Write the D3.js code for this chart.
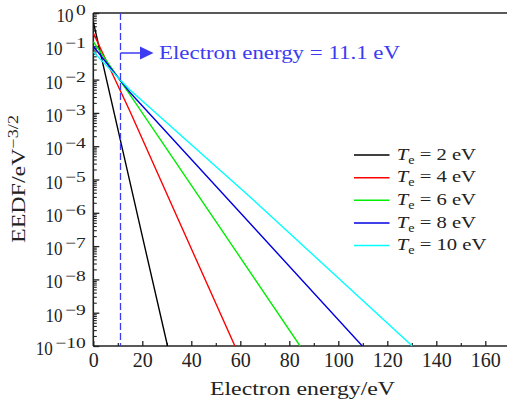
<!DOCTYPE html>
<html>
<head>
<meta charset="utf-8">
<script src="https://cdn.jsdelivr.net/npm/d3@7"></script>
<style>
  html, body { margin: 0; padding: 0; background: #fff; }
  svg { display: block; }
</style>
</head>
<body>
<svg id="chart" width="507" height="401"></svg>
<script>
// Electron energy distribution functions for several electron temperatures
const temperatures = [2, 4, 6, 8, 10];

const energyTe2  = [0, 10, 20, 30.3];
const eedfTe2    = [5.4e-1, 3.3e-4, 2.0e-7, 1e-10];
const energyTe4  = [0, 15, 35, 57.8];
const eedfTe4    = [2.5e-1, 1.1e-3, 5.6e-7, 1e-10];
const energyTe6  = [0, 15, 50, 84.4];
const eedfTe6    = [1.38e-1, 3.5e-3, 5.5e-7, 1e-10];
const energyTe8  = [0, 15, 60, 109.8];
const eedfTe8    = [1.0e-1, 4.1e-3, 1.0e-6, 1e-10];
const energyTe10 = [0, 15, 64, 130.2];
const eedfTe10   = [6.8e-2, 4.9e-3, 3.0e-6, 1e-10];

const markerEnergy = 11.1;

const xMajorTicks = [0, 20, 40, 60, 80, 100, 120, 140, 160];
const xMinorTicks = [10, 30, 50, 70, 90, 110, 130, 150, 170];
const yExponents  = [0, -1, -2, -3, -4, -5, -6, -7, -8, -9, -10];

const seriesEnergy = [energyTe2, energyTe4, energyTe6, energyTe8, energyTe10];
const seriesEedf   = [eedfTe2, eedfTe4, eedfTe6, eedfTe8, eedfTe10];
const colors = ["#000000", "#ff0000", "#00ee00", "#0000e0", "#00ffff"];

const FONT = '"Liberation Serif", "Times New Roman", serif';
const ink = "#222";

const svg = d3.select("#chart").style("font-family", FONT);
const plotLeft = 93.3, plotRight = 509.8, plotTop = 13, plotBottom = 346;

const x = d3.scaleLinear().domain([0, 170]).range([plotLeft, plotRight]);
const y = d3.scaleLog().domain([1e-10, 1]).range([plotBottom, plotTop]);

svg.append("defs").append("clipPath").attr("id", "plotArea")
  .append("rect").attr("x", plotLeft).attr("y", plotTop)
  .attr("width", plotRight - plotLeft).attr("height", plotBottom - plotTop);

function styleText(sel, size) {
  return sel.style("font-family", FONT).style("font-size", size + "px").style("fill", ink);
}
// widen a text element to mimic the broader serif face of the typeset figure
function widen(sel, factor) {
  sel.each(function() {
    const w = this.getComputedTextLength();
    d3.select(this).attr("textLength", w * factor).attr("lengthAdjust", "spacingAndGlyphs");
  });
  return sel;
}

// x axis: major + minor inward ticks
const gx = svg.append("g").attr("transform", `translate(0,${plotBottom})`)
  .call(d3.axisBottom(x).tickValues(xMajorTicks).tickSize(-5).tickPadding(7).tickFormat(d3.format("d")));
gx.select(".domain").remove();
gx.selectAll(".tick line").attr("stroke", ink).attr("stroke-width", 1.3);
styleText(gx.selectAll(".tick text"), 20).attr("dy", "0.72em");

const gxm = svg.append("g").attr("transform", `translate(0,${plotBottom})`)
  .call(d3.axisBottom(x).tickValues(xMinorTicks).tickSize(-3).tickFormat(""));
gxm.select(".domain").remove();
gxm.selectAll(".tick line").attr("stroke", ink).attr("stroke-width", 1.2);

// y axis: decades written as 10 with a superscript exponent, plus minor log ticks
const gy = svg.append("g").attr("transform", `translate(${plotLeft},0)`)
  .call(d3.axisLeft(y).tickValues(yExponents.map(e => Math.pow(10, e))).tickSize(-6).tickFormat(""));
gy.select(".domain").remove();
gy.selectAll(".tick line").attr("stroke", ink).attr("stroke-width", 1.3);
gy.selectAll(".tick text").remove();
gy.selectAll(".tick").each(function(d) {
  const g = d3.select(this);
  const e = Math.round(Math.log10(d));
  const sup = styleText(g.append("text"), 15).attr("text-anchor", "end")
    .attr("x", -7.5).attr("y", 1.5)
    .text(e < 0 ? "\u2212" + (-e) : String(e));
  widen(sup, 1.3);
  const supW = +sup.attr("textLength");
  const base = styleText(g.append("text"), 18.5).attr("text-anchor", "end")
    .attr("x", -7.5 - supW - 2.5).attr("y", 8.5).text("10");
  widen(base, 0.92);
});

const minorY = [];
for (let n = -10; n < 0; n++) for (let k = 2; k <= 9; k++) minorY.push(k * Math.pow(10, n));
const gym = svg.append("g").attr("transform", `translate(${plotLeft},0)`)
  .call(d3.axisLeft(y).tickValues(minorY).tickSize(-3.5).tickFormat(""));
gym.select(".domain").remove();
gym.selectAll(".tick line").attr("stroke", ink).attr("stroke-width", 1.1);

// frame: left, bottom and top edges
const frame = svg.append("g").attr("stroke", ink).attr("stroke-width", 1.6).attr("fill", "none");
frame.append("line").attr("x1", plotLeft).attr("x2", plotLeft).attr("y1", plotTop).attr("y2", plotBottom);
frame.append("line").attr("x1", plotLeft).attr("x2", plotRight).attr("y1", plotBottom).attr("y2", plotBottom);
frame.append("line").attr("x1", plotLeft).attr("x2", plotRight).attr("y1", plotTop).attr("y2", plotTop);

// curves
const line = d3.line().x(d => x(d[0])).y(d => y(d[1]));
const curves = svg.append("g").attr("clip-path", "url(#plotArea)");
temperatures.forEach((te, i) => {
  const pts = seriesEnergy[i].map((e, j) => [e, seriesEedf[i][j]]);
  curves.append("path").datum(pts).attr("d", line)
    .attr("fill", "none").attr("stroke", colors[i]).attr("stroke-width", 1.4);
});

// marker at the crossover energy
const annColor = "#3b3bf2";
svg.append("line")
  .attr("x1", x(markerEnergy)).attr("x2", x(markerEnergy))
  .attr("y1", plotTop).attr("y2", plotBottom)
  .attr("stroke", annColor).attr("stroke-width", 1.3).attr("stroke-dasharray", "7,3");
const ay = 53;
svg.append("line").attr("x1", x(markerEnergy)).attr("x2", 142).attr("y1", ay).attr("y2", ay)
  .attr("stroke", annColor).attr("stroke-width", 1.5);
svg.append("path").attr("d", `M140,${ay - 6.5} L153.5,${ay} L140,${ay + 6.5} Z`).attr("fill", annColor);
styleText(svg.append("text"), 18.5).style("fill", annColor)
  .attr("x", 159).attr("y", 59)
  .attr("textLength", 241).attr("lengthAdjust", "spacingAndGlyphs")
  .text("Electron energy = " + markerEnergy + " eV");

// axis titles
styleText(svg.append("text"), 18.5).attr("x", 210).attr("y", 395)
  .attr("textLength", 185).attr("lengthAdjust", "spacingAndGlyphs")
  .text("Electron energy/eV");

const yt = styleText(svg.append("text"), 18.5).attr("transform", "translate(25,243) rotate(-90)")
  .attr("textLength", 128).attr("lengthAdjust", "spacingAndGlyphs");
yt.append("tspan").text("EEDF/eV");
yt.append("tspan").style("font-size", "14px").attr("dy", -7).text("\u22123/2");

// legend
const legend = svg.append("g");
temperatures.forEach((te, i) => {
  const ly = 155 + i * 22.65;
  legend.append("line").attr("x1", 354).attr("x2", 389.5).attr("y1", ly).attr("y2", ly)
    .attr("stroke", colors[i]).attr("stroke-width", 1.5);
  const t = styleText(legend.append("text"), 17.5).attr("x", 396.7).attr("y", ly + 4.8);
  t.append("tspan").style("font-style", "italic").text("T");
  t.append("tspan").style("font-size", "12px").attr("dy", 4).text("e");
  t.append("tspan").attr("dy", -4).text(" = " + te + " eV");
  widen(t, 1.18);
});
</script>
</body>
</html>
